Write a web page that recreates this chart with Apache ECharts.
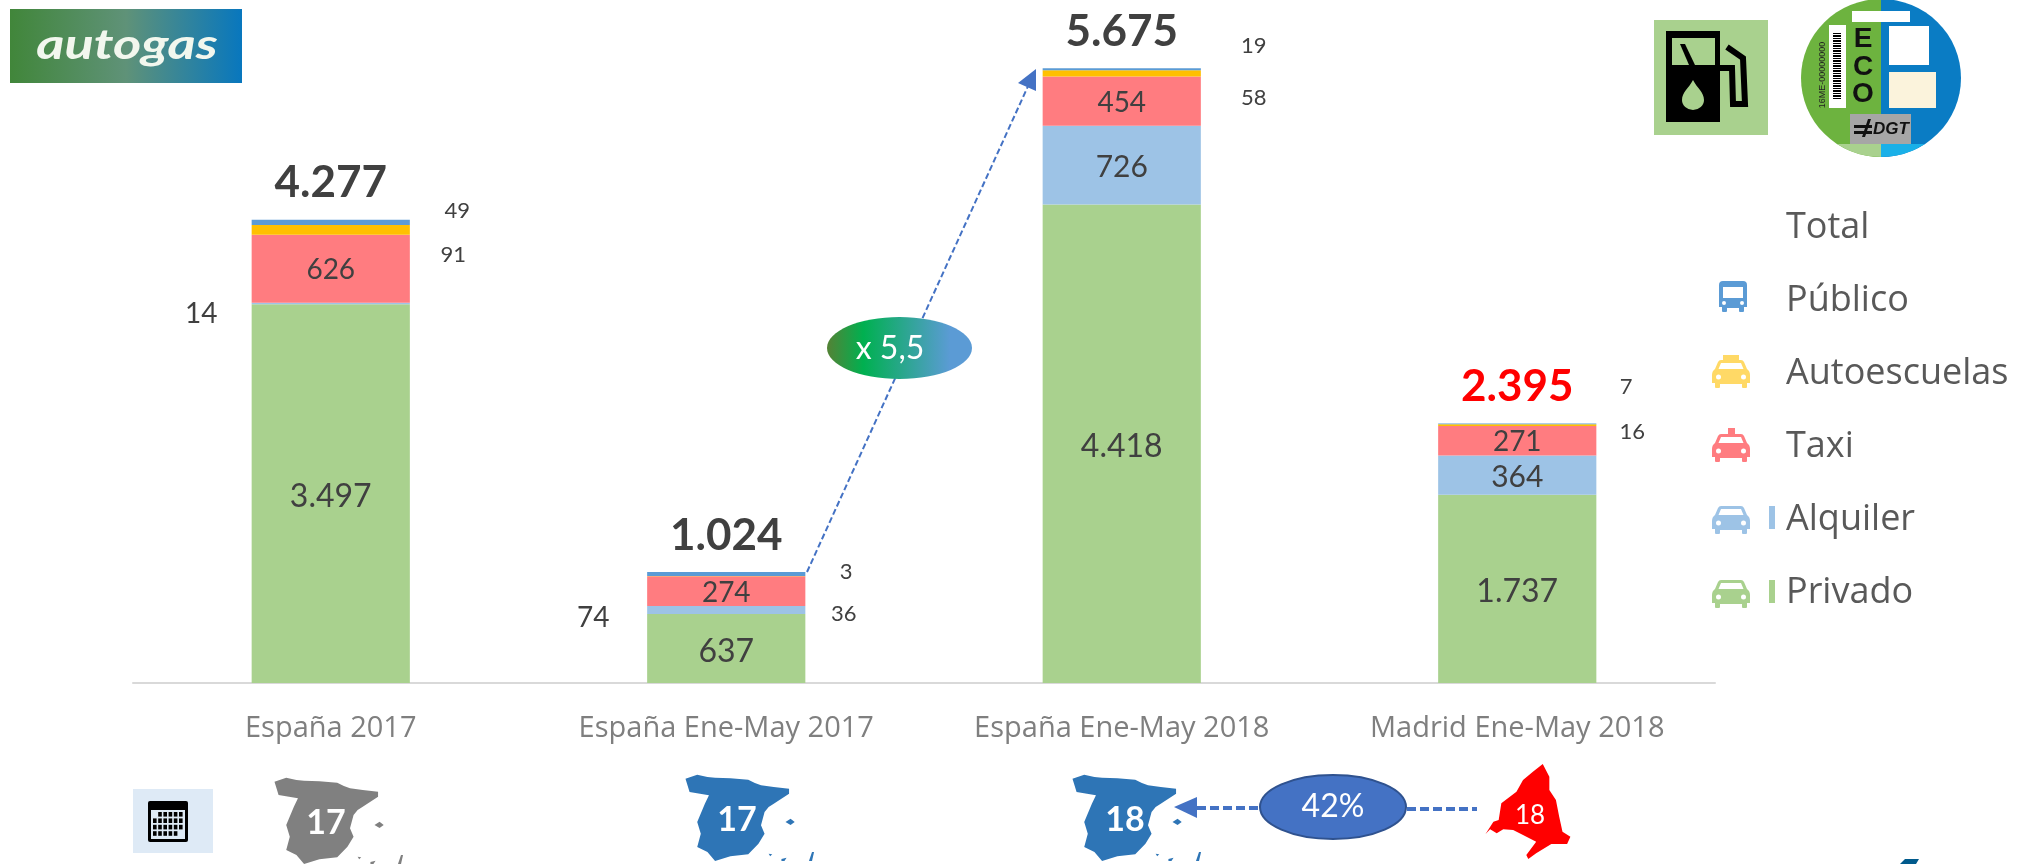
<!DOCTYPE html>
<html><head><meta charset="utf-8">
<style>html,body{margin:0;padding:0;background:#fff}#c{width:2031px;height:864px}</style>
<script src="https://cdn.jsdelivr.net/npm/echarts@6/dist/echarts.min.js"></script>
</head><body><div id="c"></div>
<script>
const categories = ['España 2017','España Ene-May 2017','España Ene-May 2018','Madrid Ene-May 2018'];
const privado      = [3497, 637, 4418, 1737];
const alquiler     = [14, 74, 726, 364];
const taxi         = [626, 274, 454, 271];
const autoescuelas = [91, 3, 58, 16];
const publico      = [49, 36, 19, 7];
const totales      = [4277, 1024, 5675, 2395];

const fmt = v => String(v).replace(/\B(?=(\d{3})+$)/g, '.');
const NUM = 'Lato', TXT = '"Open Sans"', DARK = '#404040';
const GREEN='#A9D18E', LBLUE='#9DC3E6', RED='#FF7C80', YEL='#FFC000', BLUE='#5B9BD5';

function items(values, sizeBig, offsets, size, dyBig) {
  return values.map((v, i) => {
    const o = offsets && offsets[i];
    if (!o) return {value: v, label: {show: true, position: 'inside', offset: [0, dyBig || 0], fontSize: sizeBig}};
    return {value: v, label: {show: true, position: 'inside', offset: o, fontSize: size}};
  });
}
const alquilerOffsets = [[-129.5, 11], [-133, 8], null, null];
const autoOffsets = [[122.5, 25], [120, -4], [132, 24], [115, 7]];
const publicoOffsets = [[126.5, -11], [117.5, 40], [132, -23.5], [109, -37]];

function barSeries(name, color, data) {
  return {name, type: 'bar', stack: 'a', barWidth: '40%', data,
    itemStyle: {color},
    label: {show: true, color: DARK, fontFamily: NUM, formatter: p => fmt(p.value)}};
}

/* legend icons, all on the same 69x46 canvas */
const ext = 'M0 0L0 0M69 46L69 46';
const car = (x, y) => `M${x+9} ${y}h20q2 0 3 2l3 7q3 2 3 6v8h-3v4q0 1 -1 1h-3q-1 0 -1 -1v-3h-22v3q0 1 -1 1h-3q-1 0 -1 -1v-4h-3v-8q0 -4 3 -6l3 -7q1 -2 3 -2z`
  + `M${x+9} ${y+3}l-2.5 6h25l-2.5 -6z`
  + `M${x+4} ${y+17}a2.5 2.5 0 1 0 5 0a2.5 2.5 0 1 0 -5 0z`
  + `M${x+29} ${y+17}a2.5 2.5 0 1 0 5 0a2.5 2.5 0 1 0 -5 0z`;
const tick = y => `M57 ${y}h6v23h-6z`;
const bus = (x, y) => `M${x+4} ${y}h20q4 0 4 4v22h-3v4q0 1 -1 1h-3q-1 0 -1 -1v-3h-12v3q0 1 -1 1h-3q-1 0 -1 -1v-4h-3v-22q0 -4 4 -4z`
  + `M${x+4} ${y+6}v11h20v-11z`
  + `M${x+3} ${y+22}a2 2 0 1 0 4 0a2 2 0 1 0 -4 0z`
  + `M${x+21} ${y+22}a2 2 0 1 0 4 0a2 2 0 1 0 -4 0z`;
const icons = {
  'Total': ext,
  'Público': ext + bus(7, 3),
  'Autoescuelas': ext + car(0, 9) + 'M11 4h16v6h-16z',
  'Taxi': ext + car(0, 10) + 'M16 4h7v7h-7z',
  'Alquiler': ext + car(0, 9) + tick(9),
  'Privado': ext + car(0, 10) + tick(10)
};
const iconColor = {'Total':'rgba(0,0,0,0)','Público':BLUE,'Autoescuelas':'#FFD966','Taxi':RED,'Alquiler':LBLUE,'Privado':GREEN};
const legendOrder = ['Total','Público','Autoescuelas','Taxi','Alquiler','Privado'];

let shapeId = 0;
function P(d, fill) {
  const name = 'shape' + (shapeId++);
  echarts.graphic.registerShape(name, echarts.graphic.extendPath(d, {}));
  return {type: name, style: {fill}};
}

const calendarCells = [];
for (let r = 0; r < 4; r++) for (let c = 0; c < 6; c++) {
  if ((r === 0 && c === 0) || (r === 3 && c === 5)) continue;
  calendarCells.push({type:'rect', shape:{x:153+c*5.2, y:812+r*6.4, width:3.6, height:4.6}, style:{fill:'#000'}});
}
const spainPts = [[342,125],[352,120],[365,113],[385,120],[400,122],[430,124],[465,128],[478,138],[490,145],[515,150],[545,155],[545,170],[530,185],[515,200],[505,210],[497,225],[490,265],[497,290],[485,320],[465,352],[430,358],[400,372],[385,345],[365,330],[372,290],[365,255],[380,200],[388,175],[350,165]];
const spainPath = (ox, oy, fill) => ({type:'group', x:ox, y:oy, scaleX:1/1.96, scaleY:1/3, children:[
  {type:'polygon', shape:{points:spainPts}, style:{fill}},
  {type:'polygon', shape:{points:[[538,255],[548,245],[556,255],[548,264]]}, style:{fill}},
  {type:'polygon', shape:{points:[[505,350],[512,352],[508,358]]}, style:{fill}},
  {type:'polygon', shape:{points:[[530,366],[540,362],[536,372],[530,372]]}, style:{fill}},
  {type:'polygon', shape:{points:[[584,372],[590,345],[594,345],[590,372]]}, style:{fill}}
]});
const madridPts = [[825,72],[835,110],[835,150],[845,180],[850,230],[855,275],[867,290],[862,312],[838,312],[815,340],[803,357],[800,345],[815,305],[795,285],[780,270],[765,268],[755,280],[745,268],[738,282],[750,245],[758,240],[762,190],[785,155],[795,120],[810,95]];
const T = (x, y, text, font, fill, el) => Object.assign({type:'text', x, y, style:{text, fill:fill||'#fff', font, align:'center', verticalAlign:'middle'}}, el||{});
const blue = '#4472C4';

const graphics = [
  /* autogas logo */
  {type:'rect', shape:{x:10,y:9,width:232,height:74}, style:{fill:{type:'linear',x:0,y:0,x2:1,y2:0,colorStops:[{offset:0,color:'#41863A'},{offset:.5,color:'#5F9278'},{offset:1,color:'#0877BE'}]}}},
  T(127, 45, 'autogas', 'italic bold 42px Lato', '#F2F7EE', {scaleX:1.29}),
  /* fuel icon */
  {type:'rect', shape:{x:1654,y:20,width:114,height:115}, style:{fill:GREEN}},
  {type:'rect', shape:{x:1666,y:31,width:54,height:91}, style:{fill:'#000'}},
  {type:'rect', shape:{x:1672,y:38,width:43,height:27}, style:{fill:GREEN}},
  {type:'polygon', shape:{points:[[1680,44],[1685,44],[1695,65],[1689,65]]}, style:{fill:'#000'}},
  P('M1693 80C1697 88 1704 92 1704 100A11 10 0 0 1 1682 100C1682 92 1689 88 1693 80Z', GREEN),
  {type:'polyline', shape:{points:[[1727,47],[1743,58],[1745,104],[1733,104],[1732,68],[1720,68]]}, style:{stroke:'#000',lineWidth:6,fill:'none'}},
  /* ECO badge */
  P('M1881 -1A80 79 0 0 0 1881 157Z', '#6DB33F'),
  P('M1881 -1A80 79 0 0 1 1881 157Z', '#0A7CC4'),
  P('M1837 144A80 79 0 0 0 1881 157V144Z', GREEN),
  P('M1881 144V157A80 79 0 0 0 1925 144Z', '#1AB0E8'),
  {type:'rect', shape:{x:1852,y:11,width:58,height:11}, style:{fill:'#fff'}},
  {type:'rect', shape:{x:1829,y:25,width:17,height:83}, style:{fill:'#fff'}},
  {type:'line', shape:{x1:1837,y1:33,x2:1837,y2:100}, style:{stroke:'#000',lineWidth:8,lineDash:[1,1,2,1]}},
  T(1823, 75, '16ME-00000000', '9px "Liberation Sans"', '#222', {rotation:Math.PI/2}),
  T(1863, 39, 'E', 'bold 28px "Liberation Sans"', '#111'),
  T(1863, 67, 'C', 'bold 28px "Liberation Sans"', '#111'),
  T(1863, 94, 'O', 'bold 28px "Liberation Sans"', '#111'),
  {type:'rect', shape:{x:1889,y:26,width:40,height:39}, style:{fill:'#fff'}},
  {type:'rect', shape:{x:1889,y:72,width:47,height:36}, style:{fill:'#FBF3DC'}},
  {type:'rect', shape:{x:1850,y:114,width:61,height:30}, style:{fill:'#A6A6A6'}},
  P('M1854 125h18v3h-18zM1854 131h18v3h-18zM1862 137L1868 119h3L1865 137Z', '#111'),
  T(1891, 129, 'DGT', 'italic bold 17px "Liberation Sans"', '#111'),
  /* calendar */
  {type:'rect', shape:{x:133,y:789,width:80,height:64}, style:{fill:'#DEEAF6'}},
  {type:'rect', shape:{x:148,y:801,width:40,height:41,r:2}, style:{fill:'#000'}},
  {type:'rect', shape:{x:151,y:810,width:34,height:29}, style:{fill:'#DEEAF6'}},
  ...calendarCells,
  /* maps */
  spainPath(100, 740, '#808080'),
  T(326, 823, '17', 'bold 34px Lato'),
  spainPath(511, 737, '#2E75B6'),
  T(737, 820, '17', 'bold 34px Lato'),
  spainPath(898, 737, '#2E75B6'),
  T(1125, 820, '18', 'bold 34px Lato'),
  {type:'group', x:1000, y:740, scaleX:1/1.52, scaleY:1/3, children:[{type:'polygon', shape:{points:madridPts}, style:{fill:'#FF0000'}}]},
  T(1530, 816, '18', '26px Lato'),
  /* 42% link */
  {type:'line', shape:{x1:1197,y1:808,x2:1260,y2:808}, style:{stroke:blue,lineWidth:4,lineDash:[9,4]}},
  {type:'polygon', shape:{points:[[1174,807],[1197,797],[1197,818]]}, style:{fill:blue}},
  {type:'line', shape:{x1:1407,y1:809,x2:1477,y2:809}, style:{stroke:blue,lineWidth:4,lineDash:[9,4]}},
  {type:'ellipse', shape:{cx:1333,cy:807,rx:73,ry:32}, style:{fill:blue,stroke:'#2F528F',lineWidth:2}},
  T(1333, 807, '42%', '32px Lato'),
  /* growth arrow */
  {type:'line', shape:{x1:807,y1:572,x2:1029,y2:84}, style:{stroke:blue,lineWidth:2,lineDash:[6,3]}},
  {type:'polygon', shape:{points:[[1036,69],[1018,83],[1036,91]]}, style:{fill:blue}},
  {type:'ellipse', shape:{cx:899.5,cy:348,rx:72.5,ry:31}, style:{fill:{type:'linear',x:0,y:0,x2:1,y2:0,colorStops:[{offset:0,color:'#548235'},{offset:.25,color:'#00B050'},{offset:.85,color:'#5B9BD5'},{offset:1,color:'#5B9BD5'}]}}},
  T(890, 349, 'x 5,5', '32px Lato'),
  /* corner mark */
  {type:'polygon', shape:{points:[[1905,859],[1919,859],[1916,864],[1900,864]]}, style:{fill:'#005A8C'}}
];

const chart = echarts.init(document.getElementById('c'), null, {renderer:'canvas'});
chart.setOption({
  animation: false,
  backgroundColor: '#fff',
  textStyle: {fontFamily: NUM},
  grid: {left: 133, top: 33, width: 1582, height: 650},
  xAxis: {type: 'category', data: categories, axisTick: {show: false},
    axisLine: {lineStyle: {color: '#D9D9D9', width: 2}},
    axisLabel: {color: '#7F7F7F', fontFamily: TXT, fontSize: 29, margin: 31}},
  yAxis: {type: 'value', min: 0, max: 6000, show: false, splitLine: {show: false}},
  legend: {orient: 'vertical', left: 1712, top: 205, padding: 0, itemWidth: 69, itemHeight: 46, itemGap: 27,
    selectedMode: false,
    textStyle: {color: '#595959', fontFamily: TXT, fontSize: 36},
    data: legendOrder.map(n => ({name: n, icon: 'path://' + icons[n], itemStyle: {color: iconColor[n]}}))},
  graphic: graphics,
  series: [
    barSeries('Privado', GREEN, items(privado, 32, null, 0, 3)),
    barSeries('Alquiler', LBLUE, items(alquiler, 30, alquilerOffsets, 28, 2.5)),
    barSeries('Taxi', RED, items(taxi, 28, null, 0, 1.5)),
    barSeries('Autoescuelas', YEL, items(autoescuelas, 22, autoOffsets, 22)),
    barSeries('Público', BLUE, items(publico, 22, publicoOffsets, 22)),
    {name: 'Total', type: 'line', data: totales.map((v, i) => ({value: v,
        label: i === 3 ? {color: '#FF0000'} : {}})),
      symbol: 'circle', symbolSize: 1, itemStyle: {color: 'rgba(0,0,0,0)'},
      lineStyle: {opacity: 0}, z: 5,
      label: {show: true, position: 'top', distance: 14, color: DARK, fontFamily: NUM, fontWeight: 'bold', fontSize: 44,
        formatter: p => fmt(p.value)}}
  ]
});
</script></body></html>
